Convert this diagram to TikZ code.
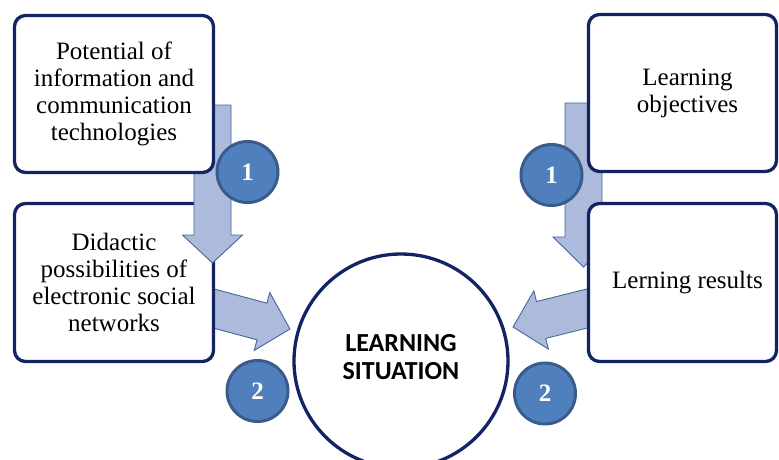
\documentclass[tikz,border=0pt]{standalone}
\usepackage{fontspec}
\setmainfont{Liberation Serif}
\newfontfamily\calib{Carlito}
\usetikzlibrary{calc}
\definecolor{navy}{RGB}{18,36,100}
\definecolor{arrfill}{RGB}{172,187,219}
\definecolor{arrline}{RGB}{72,100,152}
\definecolor{dotfill}{RGB}{79,128,189}
\definecolor{dotline}{RGB}{58,92,140}
\tikzset{
  box/.style={draw=navy, line width=3.3pt, rounded corners=11pt, fill=white,
    align=center, font=\fontsize{25}{27}\selectfont, inner sep=0pt},
  bigcircle/.style={draw=navy, line width=3.3pt, fill=white, circle, minimum size=214pt, inner sep=0pt},
  dot/.style={draw=dotline, line width=3pt, fill=dotfill, circle, minimum size=61pt, inner sep=0pt,
    text=white, font=\fontsize{25}{25}\selectfont\bfseries},
  barrow/.style={fill=arrfill, draw=arrline, line width=0.9pt, line join=miter},
}
\newcommand\blockarrow[5]{%
  \draw[barrow] ($(#1)!#3!90:(#2)$) -- ($(#2)!#5!(#1)!#3!-90:(#1)$)
    -- ($(#2)!#5!(#1)!#4!-90:(#1)$) -- (#2)
    -- ($(#2)!#5!(#1)!#4!90:(#1)$) -- ($(#2)!#5!(#1)!#3!90:(#1)$)
    -- ($(#1)!#3!-90:(#2)$) -- cycle;}
\begin{document}
\begin{tikzpicture}[x=1pt,y=-1pt]
\useasboundingbox (0,0) rectangle (779,459);
% arrow coordinates
\coordinate (lvT) at (212.5,105);
\coordinate (lvH) at (212.5,263);
\coordinate (rvT) at (583.5,103);
\coordinate (rvH) at (583.5,267);
\coordinate (lhT) at (205,306.2);
\coordinate (lhH) at (290,329);
\coordinate (rhT) at (597,306);
\coordinate (rhH) at (513,327);
% arrows behind the boxes
\blockarrow{lhT}{lhH}{19pt}{30pt}{29pt}
\blockarrow{rhT}{rhH}{19pt}{30pt}{29pt}
\blockarrow{rvT}{rvH}{18.5pt}{30.5pt}{30pt}
% lower left box, then the vertical arrow over it, then upper left box
\node[box, minimum width=199pt, minimum height=158pt] (did) at (114,282.5)
  {Didactic\\possibilities of\\electronic social\\networks};
\blockarrow{lvT}{lvH}{18.5pt}{30pt}{28pt}
\node[box, minimum width=199pt, minimum height=157pt] (pot) at (114,94)
  {Potential of\\information and\\communication\\technologies};
\node[box, minimum width=188pt, minimum height=157pt] (obj) at (682.5,93)
  {\hspace*{10pt}Learning\\\hspace*{10pt}objectives};
\node[box, minimum width=188pt, minimum height=158pt] (res) at (682.5,282.5)
  {\hspace*{10pt}Lerning results};
% central circle
\node[bigcircle] (sit) at (401,361) {};
\node[align=center, font=\calib\bfseries\fontsize{26}{28}\selectfont, inner sep=0pt] (sittext) at (401,357)
  {LEARNING\\SITUATION};
% numbered dots
\node[dot] (l1) at (247.5,172) {1};
\node[dot] (l2) at (257.5,391) {2};
\node[dot] (r1) at (551.5,175) {1};
\node[dot] (r2) at (545,393.5) {2};
\end{tikzpicture}
\end{document}
